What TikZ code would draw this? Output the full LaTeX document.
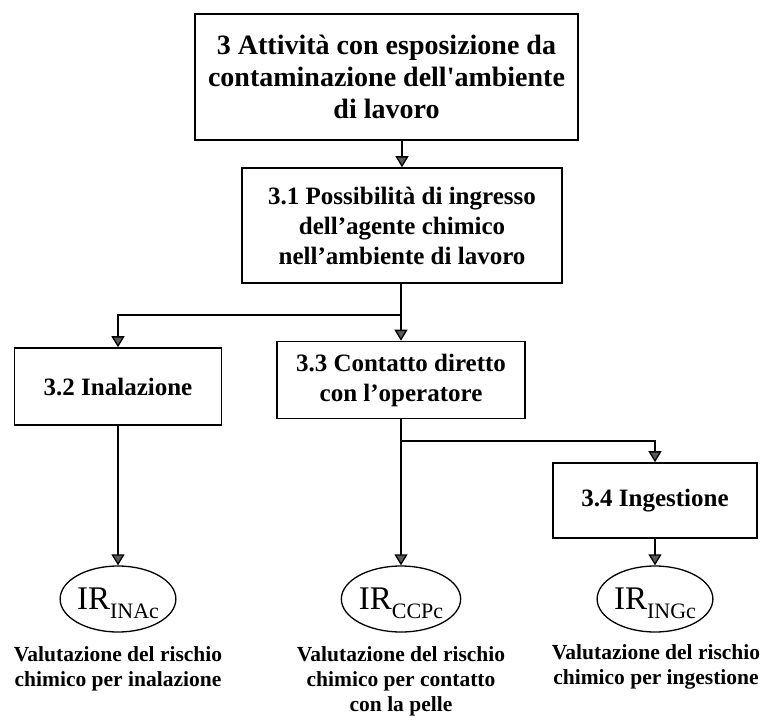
\documentclass[tikz,border=0pt]{standalone}
\usepackage{fontspec}
\setmainfont{Liberation Serif}
\usetikzlibrary{arrows.meta,shapes.geometric}
\newcommand{\irtext}[1]{\fontsize{33}{33}\selectfont IR\raisebox{-9pt}[0pt][0pt]{\fontsize{22}{22}\selectfont #1}}
\begin{document}
\begin{tikzpicture}[x=1pt, y=-1pt,
        box/.style={draw, line width=1.6pt, rectangle, align=center, inner sep=0pt, font=\fontsize{25}{30}\selectfont\bfseries},
        irnode/.style={draw, line width=1.3pt, ellipse, inner sep=0pt, minimum width=114pt, minimum height=66pt},
        caption/.style={align=center, font=\fontsize{21.5}{25}\selectfont\bfseries},
        link/.style={line width=1.3pt},
        arr/.style={link, -{Triangle[width=13pt, length=11pt, fill=black!65]}}]
                \useasboundingbox (0,0) rectangle (760,720);
                % boxes
                \node[box, minimum width=383pt, minimum height=126pt, font=\fontsize{28}{32}\selectfont\bfseries] (b1) at (386.5,77) {3 Attività con esposizione da\\contaminazione dell\textquotesingle ambiente\\di lavoro};
                \node[box, minimum width=320pt, minimum height=115pt, font=\fontsize{25}{30}\selectfont\bfseries] (b2) at (402,225.5) {3.1 Possibilità di ingresso\\dell’agente chimico\\nell’ambiente di lavoro};
                \node[box, minimum width=207pt, minimum height=77pt] (b32) at (118,386.5) {3.2 Inalazione};
                \node[box, minimum width=248pt, minimum height=77pt] (b33) at (401,380) {3.3 Contatto diretto\\con l’operatore};
                \node[box, minimum width=204pt, minimum height=75pt] (b34) at (655,500.5) {3.4 Ingestione};
                % indices
                \node[irnode] (ir1) at (118,599) {\irtext{INAc}};
                \node[irnode] (ir2) at (401,599) {\irtext{CCPc}};
                \node[irnode] (ir3) at (655,599) {\irtext{INGc}};
                \node[caption] (c1) at (118,669) {Valutazione del rischio\\chimico per inalazione};
                \node[caption] (c2) at (401,681) {Valutazione del rischio\\chimico per contatto\\con la pelle};
                \node[caption] (c3) at (656,667) {Valutazione del rischio\\chimico per ingestione};
                % connectors
                \coordinate (j1) at (401,315);
                \coordinate (j2) at (401,441);
                \draw[arr] (b2.north |- b1.south) -- (b2.north);
                \draw[link] (b2.south -| j1) -- (j1);
                \draw[arr] (j1) -| (b32.north);
                \draw[arr] (j1) -- (b33.north);
                \draw[arr] (b32.south) -- (ir1.north);
                \draw[arr] (b33.south) -- (ir2.north);
                \draw[arr] (j2) -| (b34.north);
                \draw[arr] (b34.south) -- (ir3.north);
\end{tikzpicture}
\end{document}
